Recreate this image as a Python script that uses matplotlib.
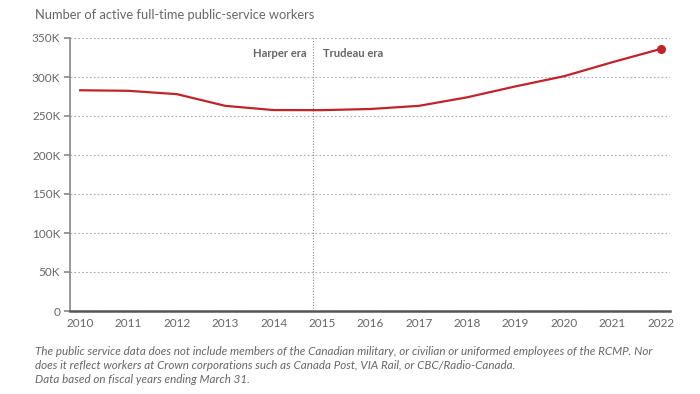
import matplotlib.pyplot as plt
from matplotlib.ticker import FuncFormatter

years = [2010, 2011, 2012, 2013, 2014, 2015, 2016, 2017, 2018, 2019, 2020, 2021, 2022]
workers = [283000, 282300, 278000, 263000, 257600, 257500, 259000, 263000, 274000, 288000, 301000, 319000, 336000]
era_split = 2014.82
y_ticks = [0, 50000, 100000, 150000, 200000, 250000, 300000, 350000]

title = "Number of active full-time public-service workers"
note = ("The public service data does not include members of the Canadian military, or civilian or uniformed employees of the RCMP. Nor\n"
        "does it reflect workers at Crown corporations such as Canada Post, VIA Rail, or CBC/Radio-Canada.\n"
        "Data based on fiscal years ending March 31.")

grey = "#666666"
red = "#c1232b"
plt.rcParams['font.family'] = ['Lato', 'DejaVu Sans']

fig = plt.figure(figsize=(7, 3.94), dpi=100)
ax = fig.add_axes([70 / 700, 1 - 311 / 394, 600 / 700, 273 / 394])

ax.plot(years, workers, color=red, lw=1.6, solid_joinstyle='round', zorder=3)
ax.plot(years[-1], workers[-1], 'o', color=red, ms=5.5, zorder=4, clip_on=False)

ax.set_xlim(2009.79, 2022.19)
ax.set_ylim(0, 350000)
ax.set_xticks(years)
ax.set_yticks(y_ticks)
ax.yaxis.set_major_formatter(FuncFormatter(lambda v, p: "0" if v == 0 else f"{int(v / 1000)}K"))
ax.grid(axis='y', color='#aaaaaa', linestyle=(0, (1.5, 2)), lw=0.8)
ax.set_axisbelow(True)

for s in ['top', 'right']:
    ax.spines[s].set_visible(False)
ax.spines['left'].set_color('#888888')
ax.spines['left'].set_linewidth(1.2)
ax.spines['bottom'].set_color('#555555')
ax.spines['bottom'].set_linewidth(1.8)
ax.tick_params(axis='y', length=4, width=1.2, color='#888888', labelcolor=grey, labelsize=8.5, pad=3)
ax.tick_params(axis='x', length=0, labelcolor=grey, labelsize=8.5, pad=5)

ax.axvline(era_split, color='#888888', linestyle=(0, (1, 1.5)), lw=0.8, zorder=2)
ax.text(era_split - 0.15, 330000, "Harper era", ha='right', va='center', color=grey,
        fontsize=8.1, fontweight='bold')
ax.text(era_split + 0.2, 330000, "Trudeau era", ha='left', va='center', color=grey,
        fontsize=8.1, fontweight='bold')

fig.text(35 / 700, 1 - 15 / 394, title, ha='left', va='center', color=grey, fontsize=9.3)
fig.text(35 / 700, 1 - 346 / 394, note, ha='left', va='top', color=grey, fontsize=8.4,
         style='italic', linespacing=1.35)

fig.savefig("out.png", dpi=100)
